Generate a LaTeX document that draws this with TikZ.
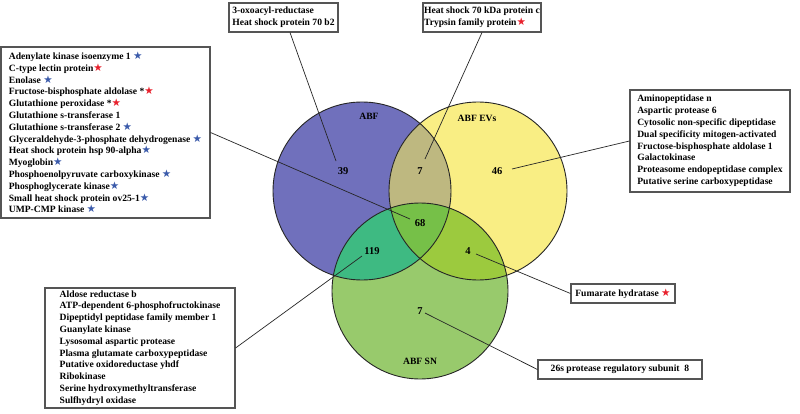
\documentclass[tikz,border=0pt]{standalone}
\usepackage{fontspec}
\setmainfont{Liberation Serif}
\newfontfamily\symfont{DejaVu Sans}
\usetikzlibrary{calc}
\definecolor{cabf}{RGB}{112,112,188}
\definecolor{cev}{RGB}{249,238,132}
\definecolor{csn}{RGB}{152,202,108}
\definecolor{cabfev}{RGB}{190,184,128}
\definecolor{cabfsn}{RGB}{62,186,130}
\definecolor{cevsn}{RGB}{156,202,62}
\definecolor{call}{RGB}{118,192,72}
\definecolor{starblue}{RGB}{58,90,170}
\definecolor{starred}{RGB}{232,32,44}
\definecolor{boxgray}{RGB}{85,85,85}
\newcommand{\bst}{{\symfont\fontsize{10.5}{10}\selectfont\color{starblue}★}}
\newcommand{\rst}{{\symfont\fontsize{10.5}{10}\selectfont\color{starred}★}}
\begin{document}
\begin{tikzpicture}[x=1pt,y=-1pt,
  listbox/.style={draw=boxgray,line width=1.1pt,fill=white,inner sep=0pt,
    font=\bfseries\fontsize{9.6}{11.8}\selectfont,align=left},
  lead/.style={draw=black!85,line width=0.7pt},
  circ/.style={draw=black!85,line width=0.9pt},
  num/.style={font=\bfseries\fontsize{10.5}{12}\selectfont},
  setlab/.style={font=\bfseries\fontsize{9.6}{11}\selectfont}]
\useasboundingbox (0,0) rectangle (800,414);
\fill[white] (0,0) rectangle (800,414);
\def\ABF{(362,191) circle (89)}
\def\EV{(478,191) circle (89)}
\def\SN{(420,291) circle (88)}
\fill[cabf] \ABF;
\fill[cev] \EV;
\fill[csn] \SN;
\begin{scope}\clip \ABF; \fill[cabfev] \EV; \end{scope}
\begin{scope}\clip \ABF; \fill[cabfsn] \SN; \end{scope}
\begin{scope}\clip \EV; \fill[cevsn] \SN; \end{scope}
\begin{scope}\clip \ABF; \clip \EV; \fill[call] \SN; \end{scope}
\draw[circ] \ABF;
\draw[circ] \EV;
\draw[circ] \SN;
% set labels
\node[setlab] (labf) at (369,116) {ABF};
\node[setlab] (lev) at (477,118) {ABF EVs};
\node[setlab] (lsn) at (420,361) {ABF SN};
% numbers
\node[num] (n39) at (343,171) {39};
\node[num] (n7a) at (420,171) {7};
\node[num] (n46) at (497,171) {46};
\node[num] (n68) at (420,223) {68};
\node[num] (n119) at (372,251) {119};
\node[num] (n4) at (468,251) {4};
\node[num] (n7s) at (420,311) {7};
% boxes
\node[listbox,minimum width=209pt,minimum height=171pt] (lbox) at (105.5,132.5) {%
Adenylate kinase isoenzyme 1 \bst\\
C-type lectin protein\rst\\
Enolase \bst\\
Fructose-bisphosphate aldolase *\rst\\
Glutathione peroxidase *\rst\\
Glutathione s-transferase 1\\
Glutathione s-transferase 2 \bst\\
Glyceraldehyde-3-phosphate dehydrogenase \bst\\
Heat shock protein hsp 90-alpha\bst\\
Myoglobin\bst\\
Phosphoenolpyruvate carboxykinase \bst\\
Phosphoglycerate kinase\bst\\
Small heat shock protein ov25-1\bst\\
UMP-CMP kinase \bst};
\node[listbox,minimum width=109pt,minimum height=29pt] (tbox1) at (283.5,17.5) {%
3-oxoacyl-reductase\\
Heat shock protein 70 b2};
\node[listbox,minimum width=118pt,minimum height=29pt] (tbox2) at (482,17.5) {%
Heat shock 70 kDa protein c\\
Trypsin family protein\rst};
\node[listbox,minimum width=160pt,minimum height=102pt] (rbox) at (710,141) {%
Aminopeptidase n\\
Aspartic protease 6\\
Cytosolic non-specific dipeptidase\\
Dual specificity mitogen-activated\\
Fructose-bisphosphate aldolase 1\\
Galactokinase\\
Proteasome endopeptidase complex\\
Putative serine carboxypeptidase};
\node[listbox,minimum width=190pt,minimum height=120pt] (blbox) at (140,348) {%
Aldose reductase b\\
ATP-dependent 6-phosphofructokinase\\
Dipeptidyl peptidase family member 1\\
Guanylate kinase\\
Lysosomal aspartic protease\\
Plasma glutamate carboxypeptidase\\
Putative oxidoreductase yhdf\\
Ribokinase\\
Serine hydroxymethyltransferase\\
Sulfhydryl oxidase};
\node[listbox,minimum width=104pt,minimum height=19pt] (fbox) at (623,293.5) {Fumarate hydratase \rst};
\node[listbox,minimum width=164pt,minimum height=19pt] (sbox) at (620,369.5) {26s protease regulatory subunit\ \ 8};
% connector ends
\coordinate (e39) at (336,161);
\coordinate (e7a) at (425,159);
\coordinate (e46) at (512,169);
\coordinate (e68) at (410,219);
\coordinate (e119) at (362,256);
\coordinate (e4) at (476,254);
\coordinate (e7s) at (425,313);
\draw[lead] (e39) -- ([xshift=6.5pt]tbox1.south);
\draw[lead] (e7a) -- (tbox2.south);
\draw[lead] (e46) -- (rbox.west);
\draw[lead] (e68) -- (lbox.east);
\draw[lead] (e119) -- (blbox.east);
\draw[lead] (e4) -- (fbox.west);
\draw[lead] (e7s) -- (sbox.west);
\end{tikzpicture}
\end{document}
